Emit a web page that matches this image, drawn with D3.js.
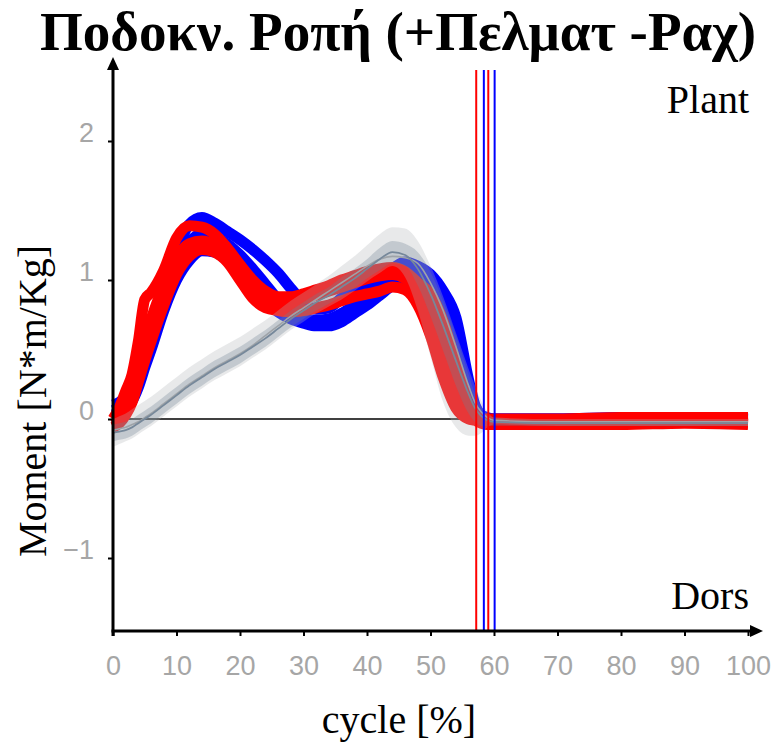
<!DOCTYPE html>
<html>
<head>
<meta charset="utf-8">
<script src="https://cdn.jsdelivr.net/npm/d3@7"></script>
<style>
  body { margin: 0; background: #fff; }
  svg { display: block; }
</style>
</head>
<body>
<div id="chart"></div>
<script>

const cycle = [0,1,2,3,4,5,6,8,10,12,14,16,18,20,22,24,26,28,30,32,34,36,38,40,42,44,46,48,50,52,54,56,57,58,59,60,70,80,90,100];

// Blue side trials (N*m/Kg)
const blue1 = [0.10,0.12,0.16,0.22,0.30,0.44,0.60,0.92,1.20,1.40,1.45,1.41,1.35,1.29,1.22,1.14,1.05,0.94,0.84,0.79,0.80,0.87,0.93,0.97,1.02,1.08,1.13,1.10,1.04,0.92,0.73,0.28,0.10,0.03,0.01,0.00,0.00,0.01,0.01,0.00];
const blue2 = [0.06,0.08,0.11,0.16,0.28,0.42,0.56,0.85,1.10,1.27,1.33,1.31,1.26,1.18,1.08,0.97,0.86,0.78,0.73,0.71,0.72,0.76,0.82,0.88,0.95,1.02,1.07,1.04,0.95,0.80,0.58,0.20,0.07,0.02,0.00,0.00,0.00,0.00,0.00,0.00];
const blue3 = [0.03,0.05,0.08,0.13,0.23,0.37,0.50,0.78,1.00,1.14,1.21,1.20,1.14,1.05,0.95,0.85,0.77,0.72,0.69,0.67,0.67,0.70,0.76,0.82,0.89,0.96,1.00,0.96,0.86,0.68,0.45,0.14,0.05,0.00,-0.01,-0.01,-0.01,-0.01,-0.01,-0.01];

// Red side trials
const red1 = [0.00,0.08,0.20,0.32,0.56,0.86,0.91,1.07,1.30,1.39,1.38,1.33,1.23,1.11,1.00,0.92,0.88,0.88,0.90,0.93,0.96,1.00,1.03,1.06,1.08,1.09,1.06,0.98,0.90,0.70,0.40,0.10,0.03,0.00,0.00,0.00,0.00,0.01,0.01,0.01];
const red2 = [-0.04,0.00,0.10,0.22,0.40,0.58,0.72,0.96,1.16,1.26,1.28,1.25,1.17,1.05,0.94,0.86,0.82,0.82,0.86,0.89,0.92,0.95,0.98,1.01,1.03,1.04,1.01,0.92,0.78,0.52,0.25,0.05,0.00,-0.02,-0.03,-0.03,-0.03,-0.03,-0.02,-0.03];
const red3 = [-0.06,-0.03,0.03,0.12,0.27,0.42,0.56,0.82,1.04,1.17,1.22,1.20,1.13,1.00,0.87,0.80,0.78,0.77,0.78,0.80,0.82,0.85,0.88,0.90,0.92,0.95,0.93,0.82,0.60,0.30,0.08,0.00,-0.01,-0.03,-0.04,-0.04,-0.04,-0.04,-0.03,-0.04];

// Normal reference (gray): mean, second trace, 1 SD and outer band limits
const normMean = [-0.10,-0.09,-0.08,-0.06,-0.03,0.00,0.03,0.10,0.17,0.24,0.30,0.36,0.41,0.46,0.52,0.58,0.65,0.72,0.78,0.84,0.89,0.95,1.01,1.08,1.15,1.20,1.18,1.08,0.90,0.67,0.42,0.18,0.08,0.02,-0.01,-0.02,-0.03,-0.03,-0.03,-0.03];
const normAlt = [-0.08,-0.07,-0.06,-0.04,-0.02,0.01,0.04,0.11,0.18,0.25,0.31,0.37,0.42,0.47,0.53,0.60,0.67,0.74,0.80,0.86,0.92,0.98,1.04,1.10,1.15,1.17,1.16,1.12,0.98,0.78,0.52,0.24,0.12,0.05,0.01,-0.01,-0.02,-0.02,-0.02,-0.02];
const normSd = [0.06,0.06,0.06,0.06,0.06,0.06,0.06,0.06,0.06,0.06,0.06,0.06,0.06,0.06,0.06,0.06,0.06,0.06,0.06,0.06,0.06,0.07,0.07,0.07,0.08,0.08,0.08,0.12,0.16,0.18,0.18,0.14,0.10,0.07,0.04,0.03,0.02,0.02,0.02,0.02];
const normLo = [-0.20,-0.18,-0.16,-0.14,-0.11,-0.08,-0.05,0.02,0.09,0.16,0.22,0.28,0.33,0.38,0.44,0.50,0.57,0.64,0.70,0.76,0.81,0.86,0.92,0.99,1.05,1.10,1.02,0.78,0.45,0.12,-0.06,-0.12,-0.12,-0.10,-0.06,-0.04,-0.05,-0.05,-0.05,-0.05];
const normHi = [0.00,0.02,0.04,0.07,0.10,0.13,0.16,0.23,0.30,0.37,0.43,0.49,0.54,0.59,0.65,0.71,0.78,0.85,0.91,0.97,1.03,1.10,1.17,1.25,1.33,1.38,1.37,1.28,1.10,0.88,0.62,0.36,0.24,0.13,0.05,0.01,0.00,0.00,0.00,0.00];

// toe off events (% cycle)
const toeOffRed = [57.2, 59.1];
const toeOffBlue = [58.4, 60.1];

const xTicks = [0,10,20,30,40,50,60,70,80,90,100];
const yTicks = [-1,0,1,2];

const C = {
  width: 780,
  height: 744,
  trace_width: 11,
  blue: '#0000ff',
  red: '#ff0000',
  tick_color: '#a6a6a6',
  serif: '"Liberation Serif", "Times New Roman", serif',
  sans: '"Liberation Sans", Arial, sans-serif',
};

const svg = d3.select('#chart').append('svg')
  .attr('width', C.width)
  .attr('height', C.height);

const X = d3.scaleLinear().domain([0, 100]).range([113, 748]);
const Y = d3.scaleLinear().domain([-1, 2]).range([558, 141]);

const line = d3.line()
  .x((d, i) => X(cycle[i]))
  .y(d => Y(d))
  .curve(d3.curveMonotoneX);

const band = (lo, hi) => d3.area()
  .x((d, i) => X(cycle[i]))
  .y0((d, i) => Y(lo(i)))
  .y1((d, i) => Y(hi(i)))
  .curve(d3.curveMonotoneX)(cycle);

// zero line sits under everything
svg.append('line')
  .attr('x1', X(0)).attr('x2', X(100))
  .attr('y1', Y(0)).attr('y2', Y(0))
  .attr('stroke', '#000')
  .attr('stroke-width', 1.5);

// patient trials, blue first then red on top
svg.append('g').selectAll('path')
  .data([blue1, blue2, blue3])
  .join('path')
  .attr('d', line)
  .attr('fill', 'none')
  .attr('stroke', C.blue)
  .attr('stroke-width', C.trace_width);

svg.append('g').selectAll('path')
  .data([red1, red2, red3])
  .join('path')
  .attr('d', line)
  .attr('fill', 'none')
  .attr('stroke', C.red)
  .attr('stroke-width', C.trace_width);

// normal band is see-through and drawn over the trials
svg.append('path')
  .attr('d', band(i => normLo[i], i => normHi[i]))
  .attr('fill', 'rgb(180,182,186)')
  .attr('fill-opacity', 0.3);

svg.append('path')
  .attr('d', band(i => normMean[i] - normSd[i], i => normMean[i] + normSd[i]))
  .attr('fill', 'rgb(110,128,146)')
  .attr('fill-opacity', 0.3);

svg.append('path')
  .attr('d', line(normAlt))
  .attr('fill', 'none')
  .attr('stroke', '#9ea3a8')
  .attr('stroke-width', 1.6);

svg.append('path')
  .attr('d', line(normMean))
  .attr('fill', 'none')
  .attr('stroke', '#76889a')
  .attr('stroke-width', 1.8);

// toe-off markers
const toeOff = [
  ...toeOffRed.map(v => ({v, color: C.red})),
  ...toeOffBlue.map(v => ({v, color: C.blue})),
];
svg.append('g').selectAll('line')
  .data(toeOff)
  .join('line')
  .attr('x1', d => X(d.v)).attr('x2', d => X(d.v))
  .attr('y1', 70).attr('y2', 631)
  .attr('stroke', d => d.color)
  .attr('stroke-width', 2);

//------------------------------------------------------------
// Axes
//------------------------------------------------------------
const xAxis = svg.append('g')
  .attr('transform', `translate(0,631)`)
  .call(d3.axisBottom(X).tickValues(xTicks).tickSize(5).tickSizeOuter(0));

xAxis.select('.domain').remove();
xAxis.selectAll('.tick line').attr('stroke', '#000').attr('stroke-width', 2);
xAxis.selectAll('.tick text')
  .attr('y', 44).attr('dy', 0)
  .attr('fill', C.tick_color)
  .style('font-family', C.sans)
  .style('font-size', '27px');

const yAxis = svg.append('g')
  .attr('transform', `translate(113,0)`)
  .call(d3.axisLeft(Y).tickValues(yTicks).tickSize(5).tickSizeOuter(0)
    .tickFormat(d => d < 0 ? '\u2212' + Math.abs(d) : d));

yAxis.select('.domain').remove();
yAxis.selectAll('.tick line').attr('stroke', '#000').attr('stroke-width', 2);
yAxis.selectAll('.tick text')
  .attr('x', -19).attr('dy', 0)
  .attr('fill', C.tick_color)
  .style('font-family', C.sans)
  .style('font-size', '27px');

// axis lines with arrow heads
svg.append('line')
  .attr('x1', X(0)).attr('x2', X(0))
  .attr('y1', 636).attr('y2', 68)
  .attr('stroke', '#000').attr('stroke-width', 3);
svg.append('path')
  .attr('d', `M${X(0) - 6},70 L${X(0)},57 L${X(0) + 6},70 Z`)
  .attr('fill', '#000');

svg.append('line')
  .attr('x1', X(0) - 1.5).attr('x2', 752)
  .attr('y1', 631).attr('y2', 631)
  .attr('stroke', '#000').attr('stroke-width', 3);
svg.append('path')
  .attr('d', `M750,625 L763,631 L750,637 Z`)
  .attr('fill', '#000');

//------------------------------------------------------------
// Texts
//------------------------------------------------------------
svg.append('text')
  .attr('x', 398).attr('y', 50)
  .attr('text-anchor', 'middle')
  .style('font-family', C.serif)
  .style('font-weight', 'bold')
  .style('font-size', '55px')
  .attr('textLength', 716)
  .attr('lengthAdjust', 'spacingAndGlyphs')
  .text('Ποδοκν. Ροπή (+Πελματ -Ραχ)');

svg.append('text')
  .attr('x', 749).attr('y', 113)
  .attr('text-anchor', 'end')
  .style('font-family', C.serif)
  .style('font-size', '40px')
  .text('Plant');

svg.append('text')
  .attr('x', 749).attr('y', 609)
  .attr('text-anchor', 'end')
  .style('font-family', C.serif)
  .style('font-size', '40px')
  .text('Dors');

svg.append('text')
  .attr('transform', 'translate(46,401) rotate(-90)')
  .attr('text-anchor', 'middle')
  .style('font-family', C.serif)
  .style('font-size', '40px')
  .text('Moment [N*m/Kg]');

svg.append('text')
  .attr('x', 399).attr('y', 733)
  .attr('text-anchor', 'middle')
  .style('font-family', C.serif)
  .style('font-size', '40px')
  .text('cycle [%]');

</script>
</body>
</html>
